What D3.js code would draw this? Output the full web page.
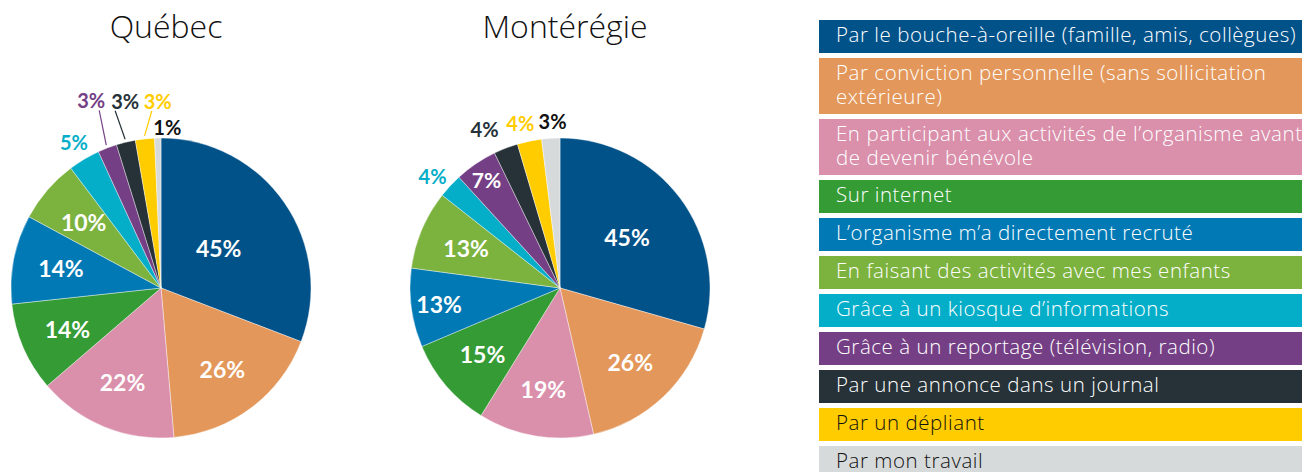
<!DOCTYPE html>
<html>
<head>
<meta charset="utf-8">
<script src="https://cdn.jsdelivr.net/npm/d3@7/dist/d3.min.js"></script>
<style>
  body { margin: 0; background: #fff; }
  svg { display: block; font-family: Lato, 'Open Sans', sans-serif; }
  .soft { font-family: 'Open Sans', Lato, sans-serif; }
</style>
</head>
<body>
<svg id="chart" width="1302" height="472"></svg>
<script>
// categories (legend order = slice order)
const reasons = [
  'Par le bouche-à-oreille (famille, amis, collègues)',
  'Par conviction personnelle (sans sollicitation|extérieure)',
  'En participant aux activités de l’organisme avant|de devenir bénévole',
  'Sur internet',
  'L’organisme m’a directement recruté',
  'En faisant des activités avec mes enfants',
  'Grâce à un kiosque d’informations',
  'Grâce à un reportage (télévision, radio)',
  'Par une annonce dans un journal',
  'Par un dépliant',
  'Par mon travail'
];
const colors = ['#02528A', '#E3975A', '#DA8FAB', '#359B35', '#0179B5', '#7CB23E',
  '#05AEC8', '#753F86', '#263238', '#FFCC00', '#D7DADB'];
const darkText = [false, false, false, false, false, false, false, false, false, true, true];

const regions = ['Québec', 'Montérégie'];
const quebecValues = [45, 26, 22, 14, 14, 10, 5, 3, 3, 3, 1];
const monteregieValues = [45, 26, 19, 15, 13, 13, 4, 7, 4, 4, 3];

const svg = d3.select('svg#chart');
const radius = 150;

// label placement per pie: outside labels, nudges and leader lines
const layouts = [
  {
    values: quebecValues, cx: 161, cy: 288,
    outside: { 6: [0, 0], 7: [-9, -29], 8: [4, -22], 9: [15, -18], 10: [10, 9] },
    leaders: { 7: 8, 8: -10, 9: -6 },
    inner: { 0: 70 }
  },
  {
    values: monteregieValues, cx: 560, cy: 288,
    outside: { 6: [-3, 4], 8: [-14, 0], 9: [-5, 1], 10: [3, 3] },
    leaders: {},
    inner: { 0: 84, 4: 122, 7: 131 }
  }
];

const pie = d3.pie().sort(null).value(d => d);
const arc = d3.arc().innerRadius(0).outerRadius(radius);

layouts.forEach((cfg, k) => {
  const g = svg.append('g').attr('transform', `translate(${cfg.cx},${cfg.cy})`);
  const arcs = pie(cfg.values);

  g.selectAll('path')
    .data(arcs)
    .enter()
    .append('path')
    .attr('d', arc)
    .attr('fill', (d, i) => colors[i])
    .attr('stroke', '#fff')
    .attr('stroke-width', 0.4);

  const midPoint = (d, r) => {
    const a = (d.startAngle + d.endAngle) / 2;
    return [Math.sin(a) * r, -Math.cos(a) * r];
  };

  arcs.forEach((d, i) => {
    const pct = cfg.values[i] + '%';
    if (cfg.outside[i]) {
      const [nx, ny] = cfg.outside[i];
      const p = midPoint(d, radius + 20);
      const x = p[0] + nx, y = p[1] + ny;
      if (cfg.leaders[i] !== undefined) {
        const end = midPoint(d, radius + 3);
        g.append('line')
          .attr('x1', x + cfg.leaders[i]).attr('y1', y + 10)
          .attr('x2', end[0]).attr('y2', end[1])
          .attr('stroke', colors[i]).attr('stroke-width', 1.2);
      }
      // the grey slice is too pale for coloured text
      g.append('text')
        .attr('x', x).attr('y', y)
        .attr('text-anchor', 'middle')
        .attr('dominant-baseline', 'central')
        .attr('font-size', 20).attr('font-weight', 700)
        .attr('fill', i === 10 ? '#111' : colors[i])
        .text(pct);
    } else {
      const r = cfg.inner[i] || 102;
      const p = midPoint(d, r);
      g.append('text')
        .attr('x', p[0]).attr('y', p[1])
        .attr('text-anchor', 'middle')
        .attr('dominant-baseline', 'central')
        .attr('font-size', cfg.values[i] < 10 ? 21 : 23).attr('font-weight', 700)
        .attr('fill', '#fff')
        .text(pct);
    }
  });

  svg.append('text')
    .attr('class', 'soft')
    .attr('x', cfg.cx + 5).attr('y', 38)
    .attr('text-anchor', 'middle')
    .attr('font-size', 32).attr('font-weight', 300)
    .attr('fill', '#111')
    .text(regions[k]);
});

// legend
const legend = svg.append('g');
let y = 20;
reasons.forEach((label, i) => {
  const lines = label.split('|');
  const h = lines.length > 1 ? 56 : 33;
  legend.append('rect')
    .attr('x', 819).attr('y', y)
    .attr('width', 1302 - 819).attr('height', h)
    .attr('fill', colors[i]);
  const t = legend.append('text')
    .attr('class', 'soft')
    .attr('y', y + 22)
    .attr('font-size', 20.5).attr('font-weight', 300)
    .attr('letter-spacing', 0.55)
    .attr('fill', darkText[i] ? '#111' : '#fff');
  lines.forEach((ln, j) => {
    t.append('tspan')
      .attr('x', 836)
      .attr('dy', j === 0 ? 0 : 24)
      .text(ln);
  });
  y += h + 5;
});
</script>
</body>
</html>
